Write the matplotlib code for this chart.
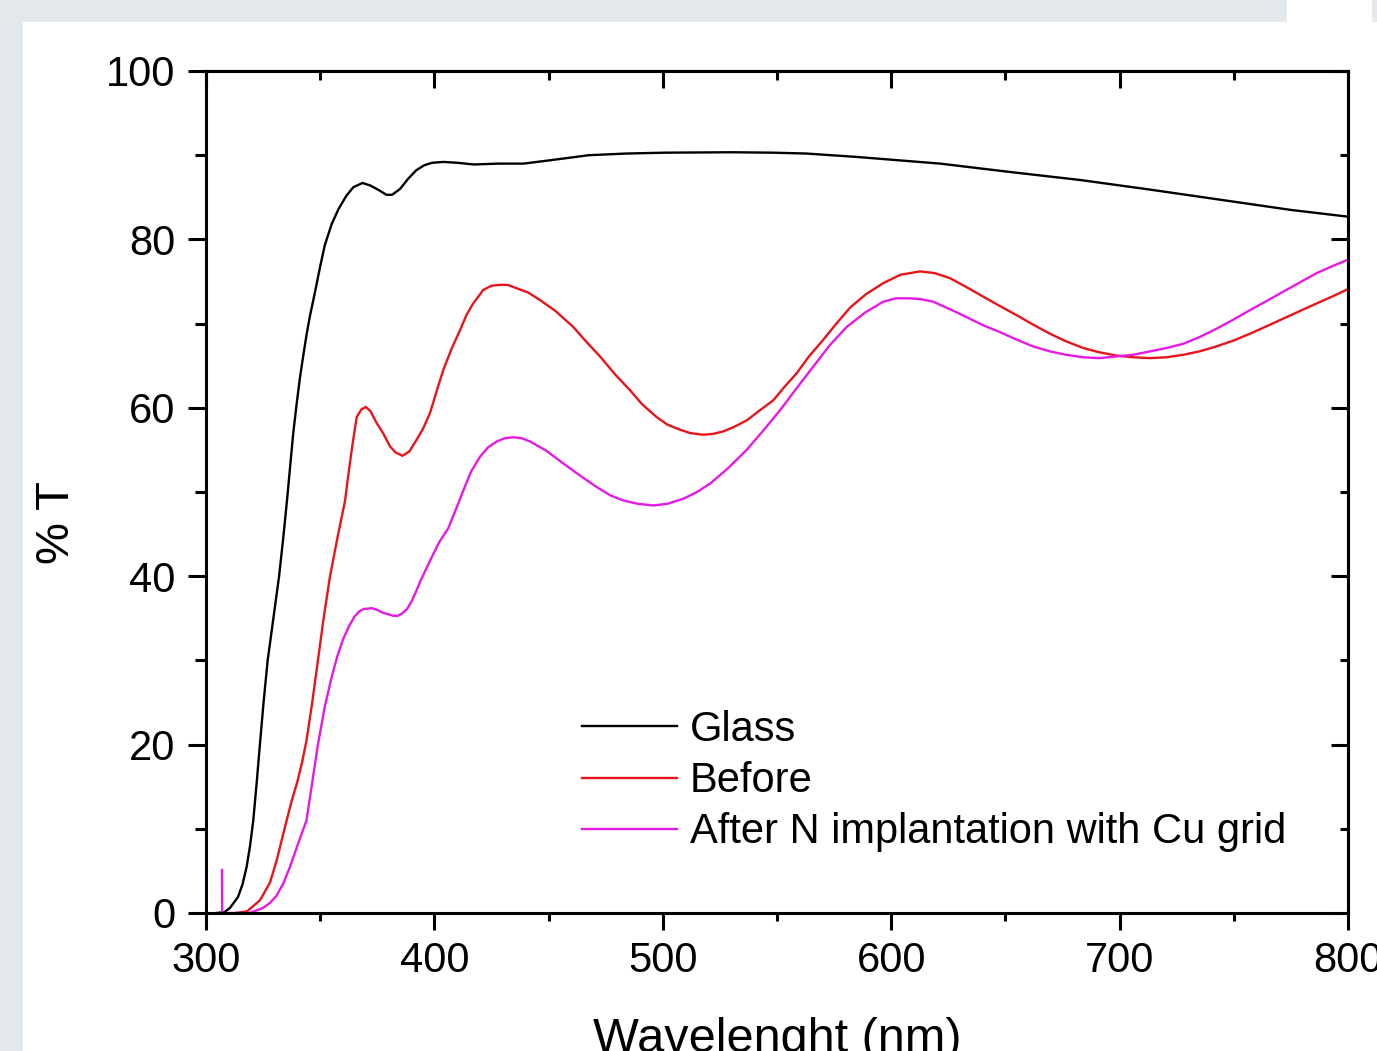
import matplotlib
matplotlib.use("Agg")
import matplotlib.pyplot as plt
from matplotlib.patches import Rectangle
from matplotlib.ticker import MultipleLocator

plt.rcParams['font.family'] = ['Liberation Sans', 'DejaVu Sans']

# ---------------- data ----------------
glass_wl = [304.5, 308, 310.5, 314, 316, 317.8, 319.3, 320.7, 322.2, 323.6, 325.2, 327,
            329.5, 332, 334, 335.6, 337, 338.2, 339.7, 341.2, 342.7, 344.1, 345.5, 347,
            350, 352, 355, 358, 361.5, 364.5, 368.5, 372, 376, 379, 381.5, 385, 388.5,
            392, 395.5, 399, 404, 410, 417.3, 428, 439, 450.7, 467.6, 484.3, 501, 530,
            548, 562.7, 584.6, 621.5, 652.2, 682.9, 713.7, 744.4, 775, 800]
glass_t = [0, 0.1, 0.6, 1.9, 3.4, 5.5, 8, 11, 15.5, 20, 25, 30,
           35, 40, 45, 49.4, 53.5, 57, 60.5, 63.7, 66.4, 68.8, 70.9, 72.8,
           76.8, 79.3, 81.8, 83.6, 85.2, 86.2, 86.7, 86.4, 85.8, 85.3, 85.3, 86.0, 87.2,
           88.2, 88.8, 89.1, 89.2, 89.1, 88.9, 89.0, 89.0, 89.4, 90.0, 90.2, 90.3, 90.35,
           90.3, 90.2, 89.8, 89.0, 88.0, 87.05, 85.9, 84.7, 83.5, 82.7]

before_wl = [313, 318, 323.6, 328, 331, 333, 335.3, 337.5, 340, 342, 344, 346.5, 349,
             351.5, 354.3, 357.5, 360.9, 362.3, 363.8, 365, 366, 368, 370, 372, 374.7,
             377.5, 380.6, 383, 386, 389, 392.2, 395, 398.1, 401, 403.9, 407.5, 411.2,
             414, 417, 421.4, 425, 428.7, 432, 436, 441, 446.2, 453, 460.8, 466, 472.5,
             479, 485.6, 491, 497.3, 502, 507.5, 512, 517.7, 522, 526.5, 531, 536.7,
             542, 548.4, 553, 558.6, 564, 570.3, 576, 582, 589, 596.5, 604, 612.6, 619,
             625.7, 632.5, 640.3, 647.5, 654.9, 662, 669.5, 676.5, 684.1, 691, 698.7,
             706, 713.3, 720.5, 727.9, 735, 742.5, 750, 757.1, 764.5, 771.7, 779, 786.3,
             793, 800]
before_t = [0, 0.2, 1.5, 3.6, 6.3, 8.5, 11, 13.3, 15.6, 17.8, 20.5, 25, 30,
            35, 40, 44.5, 49, 52, 55, 57.2, 58.9, 59.8, 60.1, 59.6, 58.2,
            57, 55.4, 54.7, 54.3, 54.8, 56.2, 57.5, 59.4, 62, 64.5, 67, 69.2,
            71, 72.4, 74, 74.5, 74.6, 74.6, 74.2, 73.7, 72.8, 71.5, 69.6, 68, 66.1,
            64, 62.1, 60.4, 58.9, 58, 57.4, 57, 56.8, 56.9, 57.2, 57.7, 58.5,
            59.6, 60.9, 62.4, 64.1, 66.1, 68.1, 70, 71.9, 73.5, 74.8, 75.8, 76.2, 76,
            75.4, 74.4, 73.2, 72.1, 71, 69.9, 68.8, 67.9, 67.1, 66.6, 66.2,
            66, 65.9, 66, 66.3, 66.7, 67.3, 68, 68.8, 69.7, 70.6, 71.5, 72.4,
            73.2, 74.1]

after_wl = [307.0, 307.05, 319, 325, 328, 331, 334, 336.8, 340, 344, 346.5, 349, 352,
            355, 357.5, 360, 362.5, 365, 367, 369, 372.7, 375, 377, 379.5, 382, 384,
            386, 388, 390, 392, 394, 398, 402, 406.1, 409.5, 412.7, 416, 420, 423.5,
            427.3, 431, 434.5, 438, 441.9, 449, 456.4, 463.5, 471, 477, 482.7, 489,
            495.9, 502, 509, 515, 520.7, 528.5, 536.7, 544, 551.3, 558.5, 565.9, 573,
            580.5, 588.5, 596.5, 602, 608.2, 613, 618.4, 629, 640.3, 647.5, 654.9, 662,
            669.5, 676.5, 684.1, 691, 698.7, 706, 713.3, 720.5, 727.9, 735, 742.5, 750,
            757.1, 764.5, 771.7, 779, 786.3, 793, 800]
after_t = [5.1, 0, 0, 0.6, 1.2, 2.1, 3.6, 5.5, 8, 11, 15.5, 20, 24.5,
           28, 30.5, 32.5, 34, 35.2, 35.8, 36.1, 36.2, 36.0, 35.7, 35.5, 35.3, 35.3,
           35.6, 36.1, 37, 38.2, 39.5, 41.8, 44.0, 45.7, 48, 50.2, 52.4, 54.2, 55.3,
           56, 56.4, 56.5, 56.4, 56, 54.9, 53.4, 52, 50.6, 49.6, 49, 48.6,
           48.4, 48.6, 49.2, 50, 51, 52.8, 55, 57.3, 59.7, 62.3, 64.9, 67.4,
           69.6, 71.3, 72.6, 73, 73, 72.9, 72.6, 71.3, 69.8, 69, 68.1, 67.3,
           66.7, 66.3, 66, 65.9, 66.1, 66.3, 66.7, 67.1, 67.6, 68.4, 69.4, 70.5,
           71.6, 72.7, 73.8, 74.9, 76, 76.8, 77.6]

labels = ["Glass", "Before", "After N implantation with Cu grid"]
colors = ["#000000", "#e8141a", "#e619e6"]

# ---------------- figure ----------------
W, H = 1377, 1051
fig = plt.figure(figsize=(W / 100, H / 100), dpi=100, facecolor="white")

bg = "#e3e8ec"
def frect(x0, y0, x1, y1):
    # pixel coords, y from top
    fig.patches.append(Rectangle((x0 / W, 1 - y1 / H), (x1 - x0) / W, (y1 - y0) / H,
                                 transform=fig.transFigure, facecolor=bg,
                                 edgecolor="none", zorder=0))
frect(0, 0, 23, H)
frect(0, 0, 1287, 22)
frect(1372, 0, W, 22)

L, R, T, B = 206, 1348, 71, 913
ax = fig.add_axes([L / W, 1 - B / H, (R - L) / W, (B - T) / H])
ax.set_facecolor("white")

for wl, t, c, lab in zip([glass_wl, before_wl, after_wl], [glass_t, before_t, after_t],
                         colors, labels):
    ax.plot(wl, t, color=c, lw=1.7, label=lab, clip_on=True)

ax.set_xlim(300, 800)
ax.set_ylim(0, 100)
ax.xaxis.set_major_locator(MultipleLocator(100))
ax.xaxis.set_minor_locator(MultipleLocator(50))
ax.yaxis.set_major_locator(MultipleLocator(20))
ax.yaxis.set_minor_locator(MultipleLocator(10))

for s in ax.spines.values():
    s.set_linewidth(2.2)

ax.tick_params(axis='x', which='major', direction='out', length=12.5, width=2.2,
               labelsize=30, pad=8, top=False)
ax.tick_params(axis='x', which='minor', direction='out', length=6, width=2.2, top=False)
ax.tick_params(axis='y', which='major', direction='out', length=13, width=2.2,
               labelsize=30, pad=9, right=False)
ax.tick_params(axis='y', which='minor', direction='out', length=8, width=2.2, right=False)

secx = ax.secondary_xaxis('top')
secx.xaxis.set_major_locator(MultipleLocator(100))
secx.xaxis.set_minor_locator(MultipleLocator(50))
secx.tick_params(which='major', direction='in', length=12.5, width=2.2, labeltop=False)
secx.tick_params(which='minor', direction='in', length=6.5, width=2.2)
secx.spines['top'].set_linewidth(2.2)

secy = ax.secondary_yaxis('right')
secy.yaxis.set_major_locator(MultipleLocator(20))
secy.yaxis.set_minor_locator(MultipleLocator(10))
secy.tick_params(which='major', direction='in', length=12.5, width=2.2, labelright=False)
secy.tick_params(which='minor', direction='in', length=6, width=2.2)
secy.spines['right'].set_linewidth(2.2)

# axis labels
fig.text(777 / W, 1 - 1052 / H, "Wavelenght (nm)", fontsize=35, ha='center', va='baseline')
fig.text(57 / W, 1 - 523 / H, "% T", fontsize=34, ha='center', va='center', rotation=90)

leg = ax.legend(loc='upper left', bbox_to_anchor=((582 - L) / (R - L), (B - 710) / (B - T)),
                frameon=False, fontsize=30, handlelength=2.28, handletextpad=0.3,
                labelspacing=0.27, borderpad=0, borderaxespad=0)
for line in leg.get_lines():
    line.set_linewidth(1.7)

fig.savefig("out.png", dpi=100, facecolor=fig.get_facecolor())
